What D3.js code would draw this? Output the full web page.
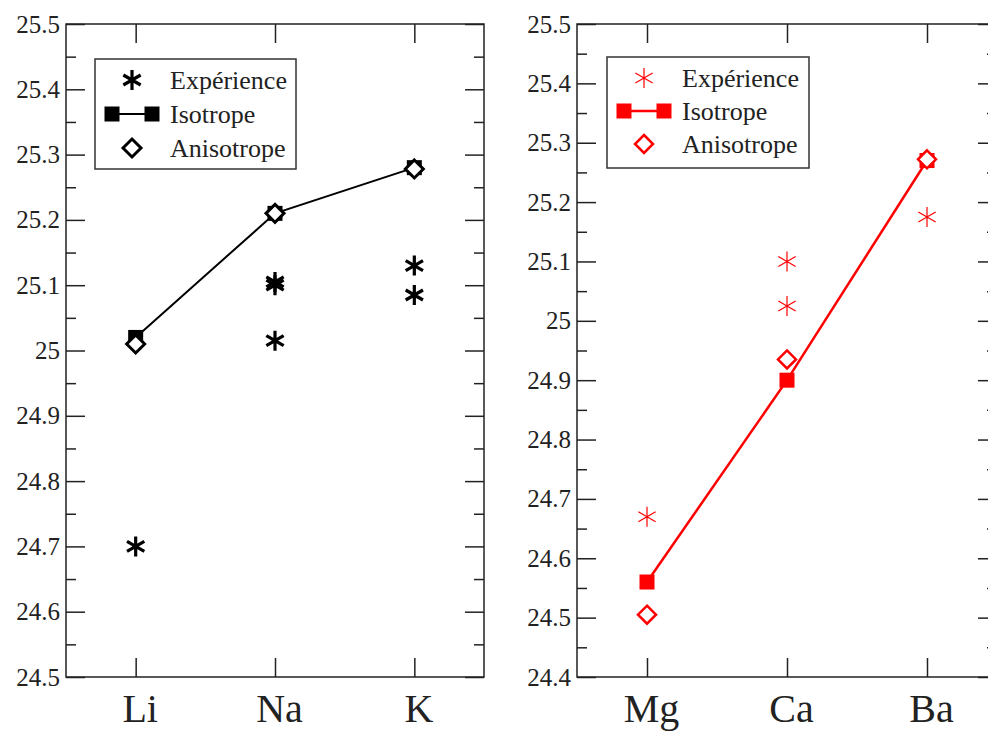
<!DOCTYPE html>
<html>
<head>
<meta charset="utf-8">
<script src="https://cdn.jsdelivr.net/npm/d3@7"></script>
<style>
  body { margin: 0; background: #fff; }
  text { font-family: "Liberation Serif", "Times New Roman", serif; fill: #222; }
</style>
</head>
<body>
<div id="chart"></div>
<script>
// alkali metals (left panel)
const leftCats = ["Li", "Na", "K"]
const leftIso = [25.02, 25.21, 25.28]
const leftAniso = [25.01, 25.21, 25.278]
const leftExpCat = ["Li", "Na", "Na", "Na", "K", "K"]
const leftExpVal = [24.70, 25.10, 25.105, 25.015, 25.13, 25.085]
const leftTicks = [24.5, 24.6, 24.7, 24.8, 24.9, 25, 25.1, 25.2, 25.3, 25.4, 25.5]

// alkaline earths (right panel)
const rightCats = ["Mg", "Ca", "Ba"]
const rightIso = [24.56, 24.90, 25.27]
const rightAniso = [24.505, 24.935, 25.272]
const rightExpCat = ["Mg", "Ca", "Ca", "Ba"]
const rightExpVal = [24.67, 25.10, 25.025, 25.175]
const rightTicks = [24.4, 24.5, 24.6, 24.7, 24.8, 24.9, 25, 25.1, 25.2, 25.3, 25.4, 25.5]

const legendLabels = ["Expérience", "Isotrope", "Anisotrope"]

const width = 988
const height = 731

const svg = d3
  .select("#chart")
  .append("svg")
  .attr("width", width)
  .attr("height", height)

// asterisk: one vertical stroke and two diagonals
const starPath = function (r) {
  const c = r * Math.cos(Math.PI / 6), s = r * Math.sin(Math.PI / 6)
  return `M0,${-r}L0,${r}M${-c},${-s}L${c},${s}M${-c},${s}L${c},${-s}`
}
const diamondPath = function (r) {
  return `M0,${-r}L${r},0L0,${r}L${-r},0Z`
}

function drawPanel(p) {
  const w = p.right - p.left
  const h = p.bottom - p.top
  const g = svg.append("g").attr("transform", `translate(${p.left},${p.top})`)

  const x = d3.scalePoint().domain(p.cats).range([0, w]).padding(0.5)
  const y = d3.scaleLinear().domain([p.ticks[0], p.ticks[p.ticks.length - 1]]).range([h, 0])
  const minor = p.ticks.slice(0, -1).map(d => d + 0.05)

  // ticks on all four sides, pointing inward
  g.append("g").attr("class", "axis")
    .call(d3.axisLeft(y).tickValues(p.ticks).tickSize(-19).tickPadding(6)
      .tickFormat(d => +d.toFixed(1)))
  g.append("g").attr("class", "axis")
    .call(d3.axisLeft(y).tickValues(minor).tickSize(-10).tickFormat(""))
  g.append("g").attr("class", "axis").attr("transform", `translate(${w},0)`)
    .call(d3.axisRight(y).tickValues(p.ticks).tickSize(-19).tickFormat(""))
  g.append("g").attr("class", "axis").attr("transform", `translate(${w},0)`)
    .call(d3.axisRight(y).tickValues(minor).tickSize(-10).tickFormat(""))
  g.append("g").attr("class", "axis")
    .call(d3.axisTop(x).tickSize(-19).tickFormat(""))
  g.append("g").attr("class", "axis xcat").attr("transform", `translate(0,${h})`)
    .call(d3.axisBottom(x).tickSize(-19))

  g.selectAll(".axis .domain").remove()
  g.selectAll(".axis line").attr("stroke", "#222").attr("stroke-width", 1.5)
  g.selectAll(".axis text").style("font-size", "25px")
    .style("font-family", "'Liberation Serif', serif").attr("fill", "#222")
  // category names: baseline ~46px under the frame
  g.selectAll(".xcat text").style("font-size", "40px")
    .attr("y", 45).attr("dy", 0).attr("dx", 4)

  g.append("rect")
    .attr("width", w)
    .attr("height", h)
    .attr("fill", "none")
    .attr("stroke", "#222")
    .attr("stroke-width", 1.5)

  // Isotrope line + squares
  const iso = p.cats.map((c, i) => [c, p.iso[i]])
  g.append("path")
    .datum(iso)
    .attr("fill", "none")
    .attr("stroke", p.color)
    .attr("stroke-width", p.lineWidth)
    .attr("d", d3.line().x(d => x(d[0])).y(d => y(d[1])))
  g.selectAll(".sq")
    .data(iso)
    .enter()
    .append("rect")
    .attr("x", d => x(d[0]) - 7.5)
    .attr("y", d => y(d[1]) - 7.5)
    .attr("width", 15)
    .attr("height", 15)
    .attr("fill", p.color)

  // Expérience stars
  g.selectAll(".star")
    .data(p.expCat.map((c, i) => [c, p.expVal[i]]))
    .enter()
    .append("path")
    .attr("transform", d => `translate(${x(d[0])},${y(d[1])})`)
    .attr("d", starPath(p.starR))
    .attr("stroke", p.color)
    .attr("stroke-width", p.starWidth)
    .attr("fill", "none")

  // Anisotrope diamonds
  g.selectAll(".dia")
    .data(p.cats.map((c, i) => [c, p.aniso[i]]))
    .enter()
    .append("path")
    .attr("transform", d => `translate(${x(d[0])},${y(d[1])})`)
    .attr("d", diamondPath(9))
    .attr("fill", "#fff")
    .attr("stroke", p.color)
    .attr("stroke-width", p.diaWidth)

  // legend
  const L = p.legend
  svg.append("rect")
    .attr("x", L.x).attr("y", L.y).attr("width", L.w).attr("height", L.h)
    .attr("fill", "#fff").attr("stroke", "#333").attr("stroke-width", 1.5)
  const rows = legendLabels.map((t, i) => L.y + L.first + i * L.gap)
  const sx = L.x + 37
  svg.append("path")
    .attr("transform", `translate(${sx},${rows[0]})`)
    .attr("d", starPath(p.starR))
    .attr("stroke", p.color).attr("stroke-width", p.starWidth)
  svg.append("line")
    .attr("x1", L.x + 17).attr("x2", L.x + 57)
    .attr("y1", rows[1]).attr("y2", rows[1])
    .attr("stroke", p.color).attr("stroke-width", p.lineWidth)
  ;[L.x + 17, L.x + 57].forEach(cx => {
    svg.append("rect")
      .attr("x", cx - 7.5).attr("y", rows[1] - 7.5)
      .attr("width", 15).attr("height", 15)
      .attr("fill", p.color)
  })
  svg.append("path")
    .attr("transform", `translate(${sx},${rows[2]})`)
    .attr("d", diamondPath(9))
    .attr("fill", "#fff").attr("stroke", p.color).attr("stroke-width", p.diaWidth)
  svg.selectAll(null)
    .data(legendLabels)
    .enter()
    .append("text")
    .attr("x", L.x + 75)
    .attr("y", (d, i) => rows[i])
    .attr("dy", "0.35em")
    .style("font-size", "26px")
    .text(d => d)
}

drawPanel({
  left: 66, right: 484, top: 24, bottom: 677,
  cats: leftCats, iso: leftIso, aniso: leftAniso,
  expCat: leftExpCat, expVal: leftExpVal, ticks: leftTicks,
  color: "#000", lineWidth: 2, starR: 10, starWidth: 3.2, diaWidth: 3,
  legend: { x: 95, y: 59, w: 201, h: 110, first: 21, gap: 34 }
})

drawPanel({
  left: 577, right: 997, top: 24, bottom: 677,
  cats: rightCats, iso: rightIso, aniso: rightAniso,
  expCat: rightExpCat, expVal: rightExpVal, ticks: rightTicks,
  color: "#ff0000", lineWidth: 2.5, starR: 10, starWidth: 1.2, diaWidth: 2.5,
  legend: { x: 607, y: 57, w: 202, h: 111, first: 21, gap: 33 }
})
</script>
</body>
</html>
